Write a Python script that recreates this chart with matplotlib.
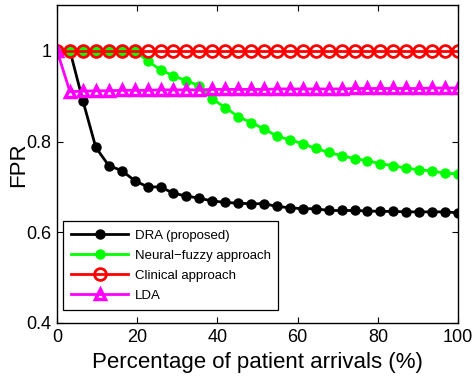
import numpy as np
import matplotlib.pyplot as plt
import matplotlib as mpl

mpl.rc('font', family=['Liberation Sans', 'DejaVu Sans'])

# x positions: 32 evaluation points from 0 to 100 %
arrivals = np.linspace(0, 100, 32)

dra = [1.0, 1.0, 0.89, 0.787, 0.747, 0.736, 0.714, 0.70, 0.70, 0.686,
       0.68, 0.675, 0.669, 0.666, 0.664, 0.663, 0.663, 0.657, 0.654, 0.652,
       0.652, 0.648, 0.648, 0.648, 0.647, 0.646, 0.646, 0.645, 0.645, 0.645,
       0.645, 0.643]
neural_fuzzy = [1.0, 1.0, 1.0, 1.0, 1.0, 1.0, 1.0, 0.978, 0.958, 0.945,
                0.934, 0.923, 0.894, 0.875, 0.855, 0.842, 0.828, 0.812, 0.804, 0.795,
                0.785, 0.776, 0.769, 0.762, 0.758, 0.751, 0.747, 0.741, 0.738, 0.735,
                0.730, 0.729]
clinical = [1.0] * 32
lda = [1.0, 0.91, 0.911, 0.912, 0.912, 0.913, 0.913, 0.913, 0.914, 0.914,
       0.914, 0.914, 0.915, 0.915, 0.915, 0.915, 0.915, 0.916, 0.916, 0.916,
       0.916, 0.916, 0.916, 0.917, 0.917, 0.917, 0.917, 0.917, 0.917, 0.918,
       0.918, 0.918]

labels = ['DRA (proposed)', 'Neural\u2212fuzzy approach', 'Clinical approach', 'LDA']

fig = plt.figure(figsize=(4.74, 3.84), dpi=100)
ax = fig.add_axes([0.1203, 0.1589, 0.846, 0.8268])

ax.plot(arrivals, dra, '-o', color='black', lw=2, ms=6.5, label=labels[0])
ax.plot(arrivals, neural_fuzzy, '-o', color='#00ff00', lw=2, ms=6.5, label=labels[1])
ax.plot(arrivals, clinical, '-o', color='#ff0000', lw=2, ms=8.5, mfc='none',
        mew=2, label=labels[2])
ax.plot(arrivals, lda, '-^', color='#ff00ff', lw=2, ms=7.5, mfc='none',
        mew=2.5, label=labels[3])

ax.set_xlim(0, 100)
ax.set_ylim(0.4, 1.1)
ax.set_xticks([0, 20, 40, 60, 80, 100])
ax.set_yticks([0.4, 0.6, 0.8, 1.0])
ax.set_yticklabels(['0.4', '0.6', '0.8', '1'])
ax.tick_params(direction='in', top=True, right=True, length=4, width=0.8,
               labelsize=13, pad=4)
for s in ax.spines.values():
    s.set_linewidth(1)

ax.set_xlabel('Percentage of patient arrivals (%)', fontsize=16, labelpad=5)
ax.set_ylabel('FPR', fontsize=16, labelpad=-2)

leg = ax.legend(loc='lower left', bbox_to_anchor=(0.0157, 0.041),
                borderaxespad=0, fontsize=9.5, fancybox=False,
                edgecolor='black', framealpha=1, handlelength=4.3,
                handletextpad=0.5, labelspacing=0.6, borderpad=0.6)
leg.get_frame().set_linewidth(0.9)

fig.savefig('out.png', dpi=100)
